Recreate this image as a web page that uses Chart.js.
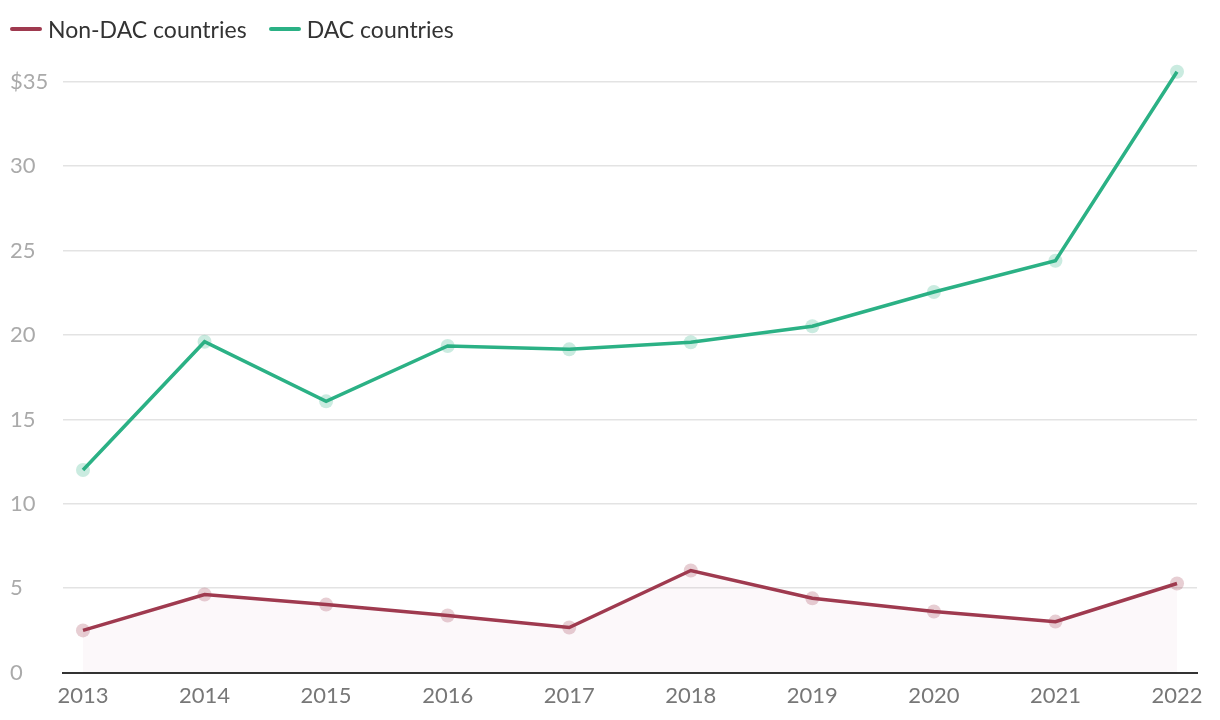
<!DOCTYPE html>
<html>
<head>
<meta charset="utf-8">
<script src="https://cdn.jsdelivr.net/npm/chart.js@4"></script>
<style>
html,body{margin:0;padding:0;background:#fff;}
#wrap{width:1220px;height:720px;position:relative;}
#legend{position:absolute;left:10px;top:14px;height:30px;display:flex;align-items:center;font-family:Lato,"Open Sans",sans-serif;font-size:23px;color:#333;white-space:nowrap;}
.item{display:flex;align-items:center;margin-right:22px;}
.sw{width:32px;height:4px;border-radius:2px;margin-right:6px;}
canvas{position:absolute;left:0;top:0;}
</style>
</head>
<body>
<div id="wrap"><canvas id="c" width="1220" height="720"></canvas><div id="legend"></div></div>
<script>
const years = [2013, 2014, 2015, 2016, 2017, 2018, 2019, 2020, 2021, 2022];
const nonDAC = [2.5, 4.63, 4.03, 3.38, 2.67, 6.05, 4.4, 3.62, 3.02, 5.28];
const dac = [12.0, 19.6, 16.07, 19.35, 19.15, 19.57, 20.52, 22.55, 24.4, 35.6];
const yTicks = [0, 5, 10, 15, 20, 25, 30, 35];
const seriesNames = ['Non-DAC countries', 'DAC countries'];

const RED = '#9f3a4f';
const GREEN = '#2bb185';
const FONT = 'Lato, "Open Sans", sans-serif';

const ctx = document.getElementById('c').getContext('2d');
const chart = new Chart(ctx, {
  type: 'line',
  data: {
    datasets: [
      {
        label: seriesNames[0],
        data: years.map((y, i) => ({x: y, y: nonDAC[i]})),
        borderColor: RED,
        backgroundColor: 'rgba(175,60,120,0.035)',
        fill: 'origin',
        borderWidth: 3.5,
        pointRadius: 7,
        pointBorderWidth: 0,
        pointBackgroundColor: 'rgba(159,58,79,0.25)',
        tension: 0,
        clip: false
      },
      {
        label: seriesNames[1],
        data: years.map((y, i) => ({x: y, y: dac[i]})),
        borderColor: GREEN,
        backgroundColor: GREEN,
        fill: false,
        borderWidth: 3.5,
        pointRadius: 7,
        pointBorderWidth: 0,
        pointBackgroundColor: 'rgba(43,177,133,0.25)',
        tension: 0,
        clip: false
      }
    ]
  },
  options: {
    responsive: false,
    animation: false,
    layout: {padding: {left: 10, right: 23, top: 70, bottom: 0}},
    plugins: {
      tooltip: {enabled: false},
      legend: {display: false}
    },
    scales: {
      x: {
        type: 'linear',
        min: 2013 - 0.1645,
        max: 2022 + 0.1645,
        afterBuildTicks: (s) => { s.ticks = years.map(v => ({value: v})); },
        grid: {display: false, drawTicks: false},
        border: {display: true, color: '#333', width: 2},
        ticks: {
          font: {family: FONT, size: 22},
          color: '#777',
          padding: 10.5,
          maxRotation: 0,
          autoSkip: false,
          callback: (v) => String(v)
        }
      },
      y: {
        min: 0,
        max: 35.7,
        afterBuildTicks: (s) => { s.ticks = yTicks.map(v => ({value: v})); },
        afterFit: (s) => { s.width = 53; },
        grid: {color: '#e3e3e3', lineWidth: 1.5, drawTicks: false},
        border: {display: false},
        ticks: {
          font: {family: FONT, size: 22},
          color: '#aaa',
          crossAlign: 'far',
          padding: 8,
          callback: (v) => v === 35 ? '$35' : String(v)
        }
      }
    }
  }
});

const legend = document.getElementById('legend');
chart.data.datasets.forEach((d) => {
  const item = document.createElement('div');
  item.className = 'item';
  const sw = document.createElement('span');
  sw.className = 'sw';
  sw.style.background = d.borderColor;
  const t = document.createElement('span');
  t.textContent = d.label;
  item.appendChild(sw);
  item.appendChild(t);
  legend.appendChild(item);
});
</script>
</body>
</html>
